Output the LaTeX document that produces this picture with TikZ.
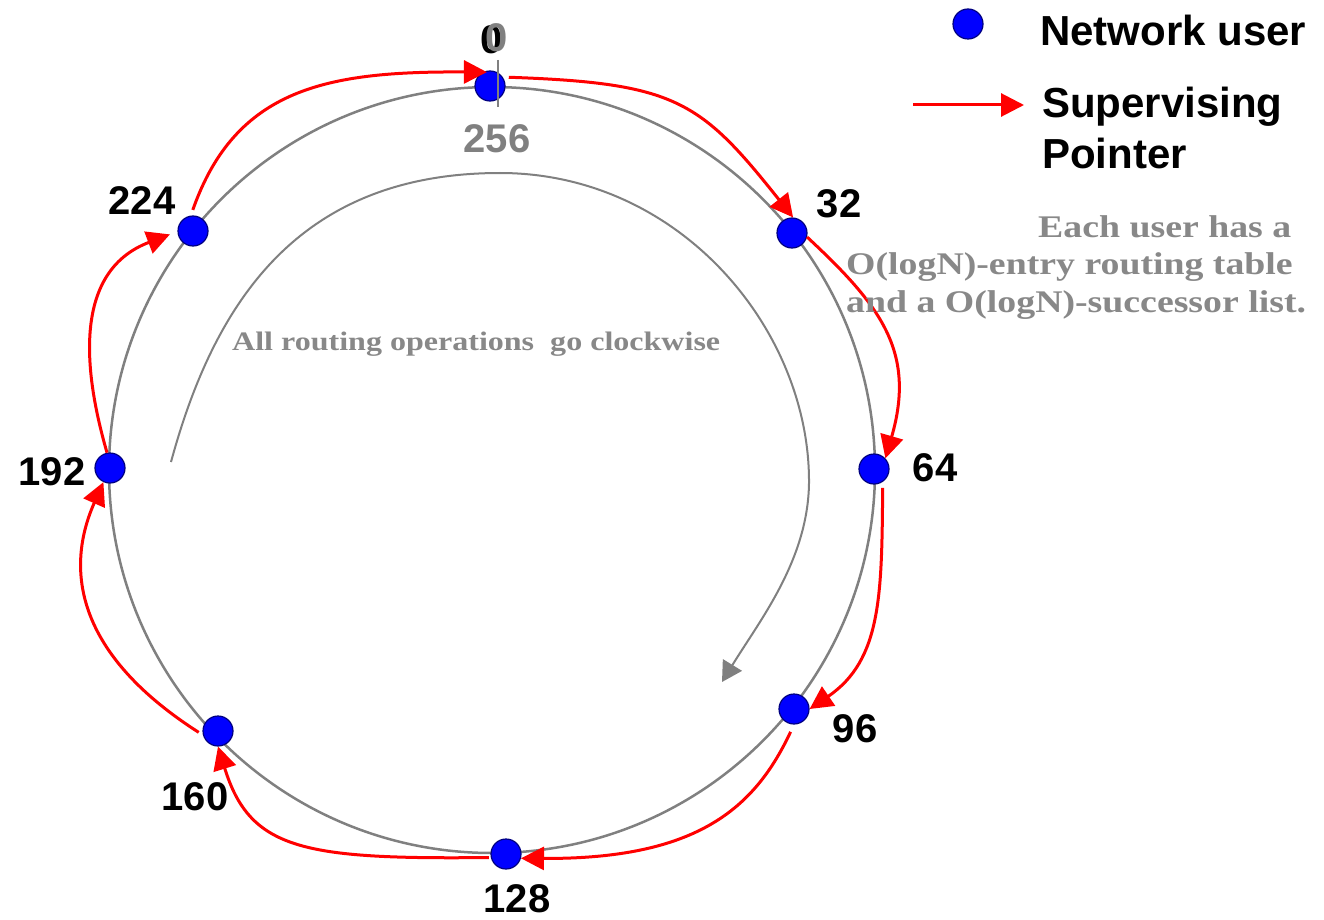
\documentclass[tikz,border=0pt]{standalone}
\usepackage{fontspec}
\setmainfont{Liberation Sans}
\newfontfamily\notefont{Liberation Serif}[FakeStretch=1.2]
\usetikzlibrary{arrows.meta}
\definecolor{userblue}{RGB}{0,0,255}
\definecolor{useredge}{RGB}{0,0,128}
\definecolor{ringgray}{RGB}{128,128,128}
\definecolor{notegray}{RGB}{136,136,136}
\definecolor{ptrred}{RGB}{255,0,0}
\begin{document}
\begin{tikzpicture}[x=1pt,y=-1pt,
  user/.style={circle,fill=userblue,draw=useredge,line width=1.2pt,minimum size=30pt,inner sep=0pt},
  idlabel/.style={font=\fontsize{40}{40}\selectfont\bfseries,text=black,inner sep=0pt},
  idgray/.style={idlabel,text=ringgray},
  legendtext/.style={font=\fontsize{42}{42}\selectfont\bfseries,text=black,inner sep=0pt,anchor=base west},
  notetext/.style={font=\notefont\bfseries\fontsize{31.5}{38}\selectfont,text=notegray,inner sep=0pt,anchor=base west},
  flowtext/.style={font=\notefont\bfseries\fontsize{26.7}{30}\selectfont,text=notegray,inner sep=0pt,anchor=base west},
  ptr/.style={draw=ptrred,line width=3pt,-{Triangle[length=23pt,width=23pt]}},
  flow/.style={draw=ringgray,line width=2pt,-{Triangle[length=20pt,width=22pt]}},
  ring/.style={draw=ringgray,line width=2.5pt}
]
% page
\useasboundingbox (0,0) rectangle (1324,920);
\fill[white] (0,0) rectangle (1324,920);

% the identifier ring
\coordinate (ringc) at (492,470);
\draw[ring] (ringc) circle[radius=383];

% clockwise routing hint
\coordinate (flowA) at (171,462);
\coordinate (flowB) at (722,682);
\draw[flow] (flowA) .. controls (215,300) and (300,173) .. (500,173)
  .. controls (680,173) and (810,330) .. (809,483)
  .. controls (808,560) and (760,620) .. (flowB);
\node[flowtext] (flowlbl) at (232,350) {All routing operations\ \ go clockwise};

% users on the ring
\node[user] (n0) at (490,86) {};
\node[user] (n32) at (792,233) {};
\node[user] (n64) at (874,469) {};
\node[user] (n96) at (794,709) {};
\node[user] (n128) at (506,854) {};
\node[user] (n160) at (218,731) {};
\node[user] (n192) at (110,468) {};
\node[user] (n224) at (193,231) {};

% supervising pointers
\draw[ptr,shorten <=6pt,shorten >=-4pt] (n224.98) .. controls +(45,-128) and +(-155,-1) .. (n0.117);
\draw[ptr,shorten <=6pt] (n0.35) .. controls +(173,6) and +(-93,-117) .. (n32.86);
\draw[ptr] (n32.-15) .. controls +(73,68) and +(31,-107) .. (n64.43);
\draw[ptr,shorten <=6pt] (n64.-56) .. controls +(-1,113) and +(72,-49) .. (n96.0);
\draw[ptr,shorten <=8pt] (n96.-90) .. controls +(-39,83) and +(177,1) .. (n128.-16);
\draw[ptr,shorten <=2pt] (n128.193) .. controls +(-189,2) and +(32,103) .. (n160.-90);
\draw[ptr,shorten <=5pt] (n160.195) .. controls +(-119,-76) and +(-42,95) .. (n192.245);
\draw[ptr,shorten >=8pt] (n192.101) .. controls +(-27,-93) and +(-100,38) .. (n224.182);

% wrap-around mark at zero
\draw[draw=ringgray,line width=2pt] (498,60) -- (498,107);

% identifiers
\node[idlabel] (l0) at (492,40) {0};
\node[idgray] (l0b) at (497,38) {0};
\node[idgray] (l256) at (497,139) {256};
\node[idlabel] (l32) at (839,204) {32};
\node[idlabel] (l64) at (935,468) {64};
\node[idlabel] (l96) at (855,729) {96};
\node[idlabel] (l128) at (517,899) {128};
\node[idlabel] (l160) at (195,797) {160};
\node[idlabel] (l192) at (52,472) {192};
\node[idlabel] (l224) at (142,201) {224};

% legend
\node[user] (lguser) at (968,24) {};
\node[legendtext] (lgusertxt) at (1040,46) {Network user};
\coordinate (lgA) at (913,105);
\coordinate (lgB) at (1024,105);
\draw[ptr] (lgA) -- (lgB);
\node[legendtext] (lgptr1) at (1042,118) {Supervising};
\node[legendtext] (lgptr2) at (1042,168) {Pointer};

% note on state per user
\node[notetext] (note1) at (1038,237) {Each user has a};
\node[notetext] (note2) at (846,274) {O(logN)-entry routing table};
\node[notetext] (note3) at (846,312) {and a O(logN)-successor list.};
\end{tikzpicture}
\end{document}
